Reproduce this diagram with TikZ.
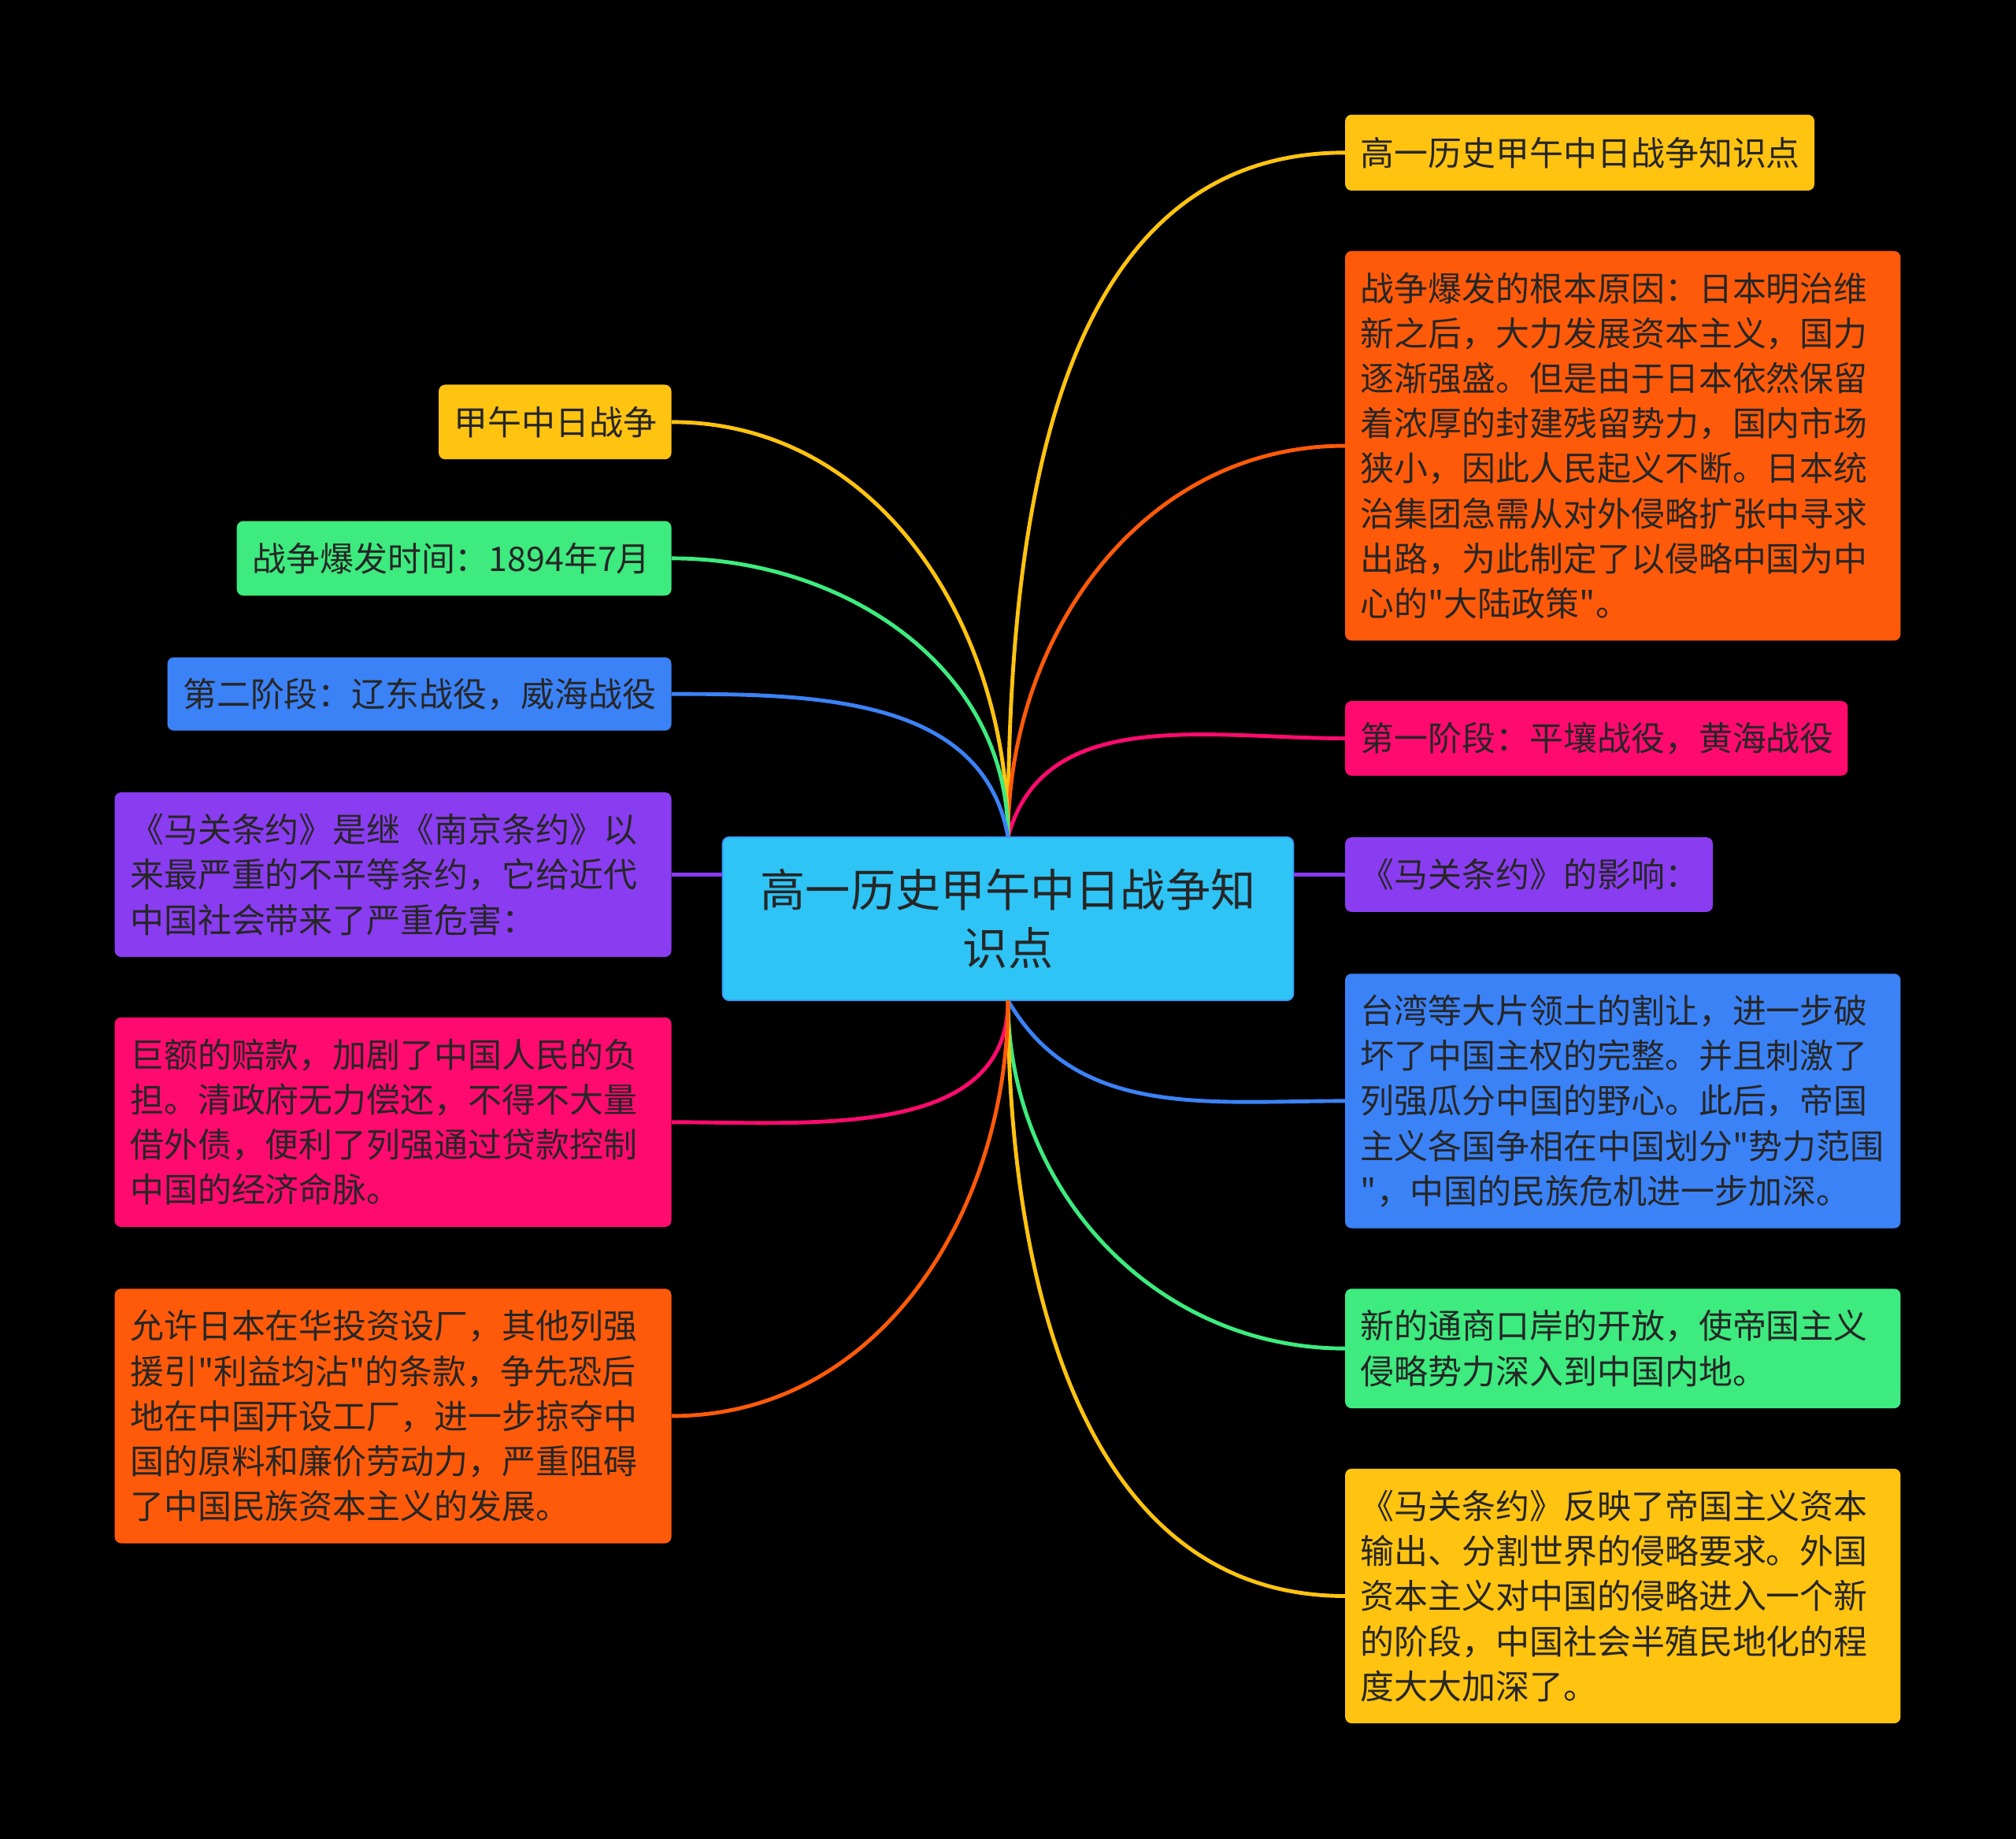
\documentclass[tikz,border=0pt]{standalone}
\usepackage{fontspec}
\newfontfamily\cjk{Noto Sans CJK SC}
\begin{document}
\begin{tikzpicture}[x=1pt,y=-1pt,
 bx/.style={rounded corners=5pt,inner sep=12pt,align=left,text=black!85,font=\cjk\fontsize{26.3}{35}\selectfont},
 ln/.style={line width=3pt}]
\definecolor{cy}{HTML}{2EC4F5}\definecolor{yl}{HTML}{FFC310}\definecolor{og}{HTML}{FF5A0A}
\definecolor{pk}{HTML}{FF0A6E}\definecolor{pu}{HTML}{8A3CF0}\definecolor{bl}{HTML}{3B82F6}\definecolor{gr}{HTML}{3DEB7E}
\fill[black] (0,0) rectangle (1568,1430);
\useasboundingbox (0,0) rectangle (1568,1430);
\node[bx,fill=cy,draw=bl!70!cy,line width=1pt,minimum width=444pt,minimum height=127pt,text width=420pt,align=center,font=\cjk\fontsize{35}{45}\selectfont] (c) at (784,714.5) {高一历史甲午中日战争知\\识点};
\newcommand\bnode[8]{\node[bx,fill=#2,text width=#5-#3-24,minimum height=#6-#4,anchor=north west] (#1) at (#3,#4) {#8};}
\bnode{r1}{yl}{1046}{89}{1411}{148}{}{高一历史甲午中日战争知识点}
\bnode{r2}{og}{1046}{195}{1478}{498}{}{战争爆发的根本原因：日本明治维\\新之后，大力发展资本主义，国力\\逐渐强盛。但是由于日本依然保留\\着浓厚的封建残留势力，国内市场\\狭小，因此人民起义不断。日本统\\治集团急需从对外侵略扩张中寻求\\出路，为此制定了以侵略中国为中\\心的"大陆政策"。}
\bnode{r3}{pk}{1046}{545}{1437}{603}{}{第一阶段：平壤战役，黄海战役}
\bnode{r4}{pu}{1046}{651}{1332}{709}{}{《马关条约》的影响：}
\bnode{r5}{bl}{1046}{757}{1478}{955}{}{台湾等大片领土的割让，进一步破\\坏了中国主权的完整。并且刺激了\\列强瓜分中国的野心。此后，帝国\\主义各国争相在中国划分"势力范围\\"，中国的民族危机进一步加深。}
\bnode{r6}{gr}{1046}{1002}{1478}{1095}{}{新的通商口岸的开放，使帝国主义\\侵略势力深入到中国内地。}
\bnode{r7}{yl}{1046}{1142}{1478}{1340}{}{《马关条约》反映了帝国主义资本\\输出、分割世界的侵略要求。外国\\资本主义对中国的侵略进入一个新\\的阶段，中国社会半殖民地化的程\\度大大加深了。}
\bnode{l1}{yl}{341}{299}{522}{357}{}{甲午中日战争}
\bnode{l2}{gr}{184}{405}{522}{463}{}{战争爆发时间：1894年7月}
\bnode{l3}{bl}{130}{511}{522}{568}{}{第二阶段：辽东战役，威海战役}
\bnode{l4}{pu}{89}{616}{522}{744}{}{《马关条约》是继《南京条约》以\\来最严重的不平等条约，它给近代\\中国社会带来了严重危害：}
\bnode{l5}{pk}{89}{791}{522}{954}{}{巨额的赔款，加剧了中国人民的负\\担。清政府无力偿还，不得不大量\\借外债，便利了列强通过贷款控制\\中国的经济命脉。}
\bnode{l6}{og}{89}{1002}{522}{1200}{}{允许日本在华投资设厂，其他列强\\援引"利益均沾"的条款，争先恐后\\地在中国开设工厂，进一步掠夺中\\国的原料和廉价劳动力，严重阻碍\\了中国民族资本主义的发展。}
\coordinate (ct) at (784,651); \coordinate (cb) at (784,778);
\draw[ln,yl] (ct) to[out=90,in=180] (r1.west);
\draw[ln,og] (ct) to[out=90,in=180] (r2.west);
\draw[ln,pk] (ct) to[out=75,in=180] (r3.west);
\draw[ln,pu] (c.east |- r4.west) -- (r4.west);
\draw[ln,bl] (cb) to[out=-60,in=180] (r5.west);
\draw[ln,gr] (cb) to[out=-90,in=180] (r6.west);
\draw[ln,yl] (cb) to[out=-90,in=180] (r7.west);
\draw[ln,yl] (ct) to[out=90,in=0] (l1.east);
\draw[ln,gr] (ct) to[out=90,in=0] (l2.east);
\draw[ln,bl] (ct) to[out=100,in=0] (l3.east);
\draw[ln,pu] (c.west |- l4.east) -- (l4.east);
\draw[ln,pk] (cb) to[out=-90,in=0] (l5.east);
\draw[ln,og] (cb) to[out=-90,in=0] (l6.east);
\end{tikzpicture}
\end{document}
